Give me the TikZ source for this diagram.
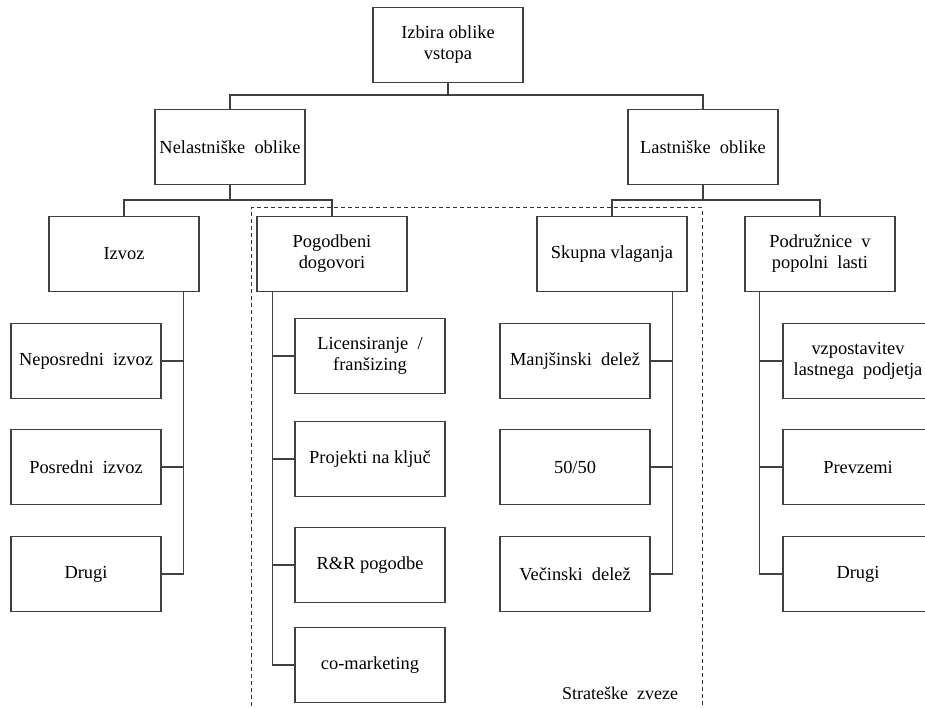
\documentclass[tikz,border=0pt]{standalone}
\usepackage{fontspec}
\setmainfont{Liberation Serif}
\usepackage{tikz}

\tikzset{
  box/.style={draw=black!75, line width=1.3pt, minimum width=150pt, minimum height=75pt,
    inner sep=2pt, align=center, font=\fontsize{18.4}{21}\selectfont},
  link/.style={draw=black!75, line width=1.3pt}
}

\begin{document}
\begin{tikzpicture}[x=1pt, y=-1pt]
\useasboundingbox (0,0) rectangle (925,708);
\clip (0,0) rectangle (925,708);
\fill[white] (0,0) rectangle (925,708);

% Top of the tree
\node[box] (top) at (448,45) {Izbira oblike\\vstopa};

% Second level
\node[box] (nel) at (230,147) {Nelastniške \ oblike};
\node[box] (last) at (703,147) {Lastniške \ oblike};

% Third level
\node[box] (izvoz) at (124,254) {Izvoz};
\node[box] (pogod) at (332,254) {Pogodbeni\\dogovori};
\node[box] (skup) at (612,254) {Skupna vlaganja};
\node[box] (podr) at (820,254) {Podružnice \ v\\popolni \ lasti};

% Izvoz children
\node[box] (nep) at (86,361) {Neposredni \ izvoz};
\node[box] (pos) at (86,467) {Posredni \ izvoz};
\node[box] (drug1) at (86,574) {Drugi};

% Pogodbeni dogovori children
\node[box] (lic) at (370,356) {Licensiranje \ /\\franšizing};
\node[box] (proj) at (370,459) {Projekti na ključ};
\node[box] (rr) at (370,565) {R\&R pogodbe};
\node[box] (comk) at (370,665) {co-marketing};

% Skupna vlaganja children
\node[box] (manj) at (575,361) {Manjšinski \ delež};
\node[box] (fifty) at (575,467) {50/50};
\node[box] (vec) at (575,574) {Večinski \ delež};

% Podruznice children
\node[box] (vzp) at (858,361) {vzpostavitev\\lastnega \ podjetja};
\node[box] (prev) at (858,467) {Prevzemi};
\node[box] (drug2) at (858,574) {Drugi};

% Bars between levels
\draw[link] (top.south) -- ++(0,12) coordinate (b1) -| (nel.north);
\draw[link] (b1) -| (last.north);
\draw[link] (nel.south) -- ++(0,15) coordinate (b2) -| (izvoz.north);
\draw[link] (b2) -| (pogod.north);
\draw[link] (last.south) -- ++(0,15) coordinate (b3) -| (skup.north);
\draw[link] (b3) -| (podr.north);

% Side lines to the children
\coordinate (s1) at ([xshift=-16pt]izvoz.south east);
\foreach \c in {nep,pos,drug1} \draw[link] (s1) |- (\c.east);
\coordinate (s2) at ([xshift=16pt]pogod.south west);
\foreach \c in {lic,proj,rr,comk} \draw[link] (s2) |- (\c.west);
\coordinate (s3) at ([xshift=-15pt]skup.south east);
\foreach \c in {manj,fifty,vec} \draw[link] (s3) |- (\c.east);
\coordinate (s4) at ([xshift=15pt]podr.south west);
\foreach \c in {vzp,prev,drug2} \draw[link] (s4) |- (\c.west);

% Strategic alliances frame
\draw[black!80, line width=1pt, dash pattern=on 4pt off 3pt] (251,720) -- (251,208) -- (702,208) -- (702,720);
\node[font=\fontsize{18}{21}\selectfont] (strat) at (620,693) {Strateške \ zveze};
\end{tikzpicture}
\end{document}
